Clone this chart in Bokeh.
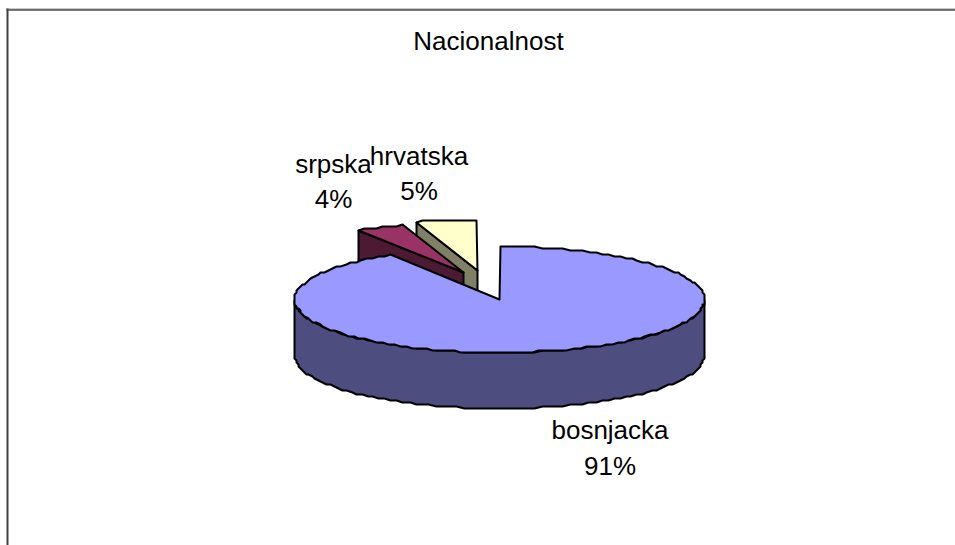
import numpy as np
from bokeh.plotting import figure
from bokeh.models import Range1d
from bokeh.embed import file_html
from bokeh.resources import INLINE
from bokeh.core.properties import value

W, H = 955, 545
title = "Nacionalnost"
categories = ["bosnjacka", "srpska", "hrvatska"]
percents = [91, 4, 5]
top_colors = ["#9999FF", "#993366", "#FFFFCC"]
side_colors = ["#4D4D80", "#4D1A33", "#808066"]

# pie layout in page pixels
centers = [(499, 299), (463, 272), (477, 270)]
radii = [(205, 53), (197, 50), (196, 51)]
depth = 56
label_pos = [(609.5, 429), (333, 163), (418.5, 155)]
line_gaps = [36, 35, 35]

p = figure(width=W, height=H, output_backend="svg", toolbar_location=None,
           x_range=Range1d(0, W), y_range=Range1d(H, 0),
           min_border=0, min_border_left=0, min_border_right=0,
           min_border_top=0, min_border_bottom=0,
           x_axis_type=None, y_axis_type=None, outline_line_color=None,
           styles={"position": "absolute", "left": "0px", "top": "0px"})
p.grid.visible = False
p.background_fill_color = "white"
p.border_fill_color = "white"

# frame: shadowed top and left edges of the chart area
p.line([6, W], [8.5, 8.5], line_color="#999999", line_width=1)
p.line([6, W], [9.5, 9.5], line_color="black", line_width=1)
p.line([7, 7], [8, H], line_color="#404040", line_width=2)


def arc(c, r, a0, a1, dy=0):
    # fine steps snapped to a 2px grid give the rim its slightly stepped look
    t = np.radians(np.linspace(a0, a1, max(2, int(abs(a1 - a0) / 2) + 1)))
    return (np.round((c[0] + r[0] * np.sin(t)) / 2) * 2,
            np.round((c[1] - r[1] * np.cos(t) + dy) / 2) * 2)


angles = np.cumsum([0] + percents) * 3.6
spans = list(zip(angles[:-1], angles[1:]))


def draw_slice(i):
    c, r = centers[i], radii[i]
    a0, a1 = spans[i]
    # outer wall, visible only on the front half of the rim
    lo, hi = max(a0, 90), min(a1, 270)
    if lo < hi:
        xo, yo = arc(c, r, lo, hi)
        xb, yb = arc(c, r, hi, lo, depth)
        p.patch(np.r_[xo, xb], np.r_[yo, yb], fill_color=side_colors[i],
                line_color="black", line_width=2, line_join="round")
    # leading cut wall of the pulled-out slices
    if i > 0:
        xe, ye = arc(c, r, a0, a0)
        xe, ye = xe[0], ye[0]
        p.patch([c[0], xe, xe, c[0]], [c[1], ye, ye + depth, c[1] + depth],
                fill_color=side_colors[i], line_color="black", line_width=2,
                line_join="round")
    # top face
    xt, yt = arc(c, r, a0, a1)
    p.patch(np.r_[c[0], xt], np.r_[c[1], yt], fill_color=top_colors[i],
            line_color="black", line_width=2, line_join="round")


for i in (2, 1, 0):
    draw_slice(i)

font = value("Liberation Sans")
p.text([488], [40], text=[title], text_font=font, text_font_size="26px",
       text_color="black", text_align="center", text_baseline="middle")
for i, (x, y) in enumerate(label_pos):
    p.text([x], [y], text=[categories[i]], text_font=font, text_font_size="26px",
           text_color="black", text_align="center", text_baseline="middle")
    p.text([x], [y + line_gaps[i]], text=[f"{percents[i]}%"], text_font=font, text_font_size="26px",
           text_color="black", text_align="center", text_baseline="middle")

open("out.html", "w").write(file_html(p, INLINE))
